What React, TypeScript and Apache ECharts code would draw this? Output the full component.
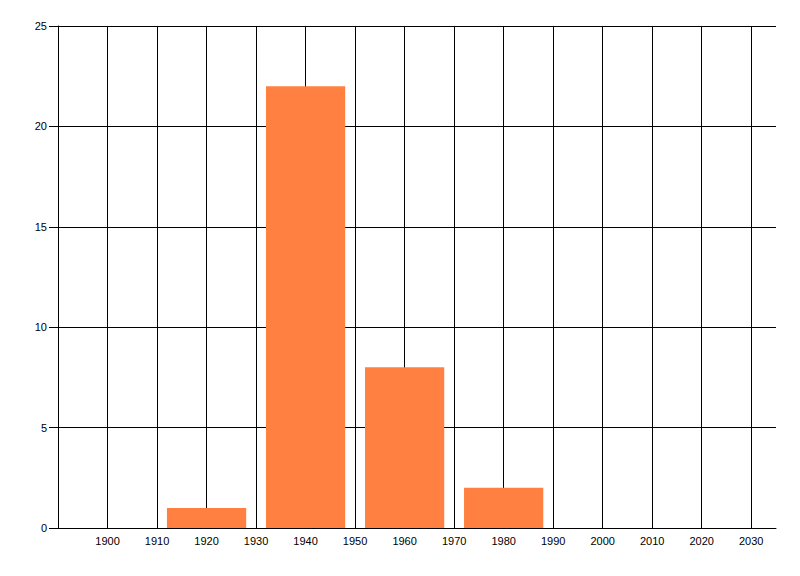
import React, { useEffect, useRef } from "react";
import * as echarts from "echarts";

const decades: number[] = [1920, 1940, 1960, 1980];
const counts: number[] = [1, 22, 8, 2];
const barHalfWidthYears = 8;
const xMin = 1890;
const xMax = 2035;
const yMax = 25;

export default function App() {
  const ref = useRef<HTMLDivElement>(null);
  useEffect(() => {
    if (!ref.current) return;
    const chart = echarts.init(ref.current, undefined, { renderer: "svg" });
    const data = decades.map((d, i) => [d, counts[i]]);
    const font = "'Liberation Sans', Arial, sans-serif";
    chart.setOption({
      animation: false,
      backgroundColor: "#ffffff",
      grid: { left: 58, top: 26, right: 24, bottom: 48, containLabel: false },
      xAxis: {
        type: "value",
        min: xMin,
        max: xMax,
        interval: 10,
        axisLine: { show: true, lineStyle: { color: "#000", width: 1 } },
        axisTick: { show: false },
        axisLabel: {
          color: "#000",
          fontFamily: font,
          fontSize: 11,
          margin: 7,
          showMinLabel: false,
          showMaxLabel: false,
          formatter: (v: number) => (v % 10 === 0 ? String(v) : ""),
        },
        splitLine: {
          show: true,
          showMinLine: false,
          showMaxLine: false,
          lineStyle: { color: "#000", width: 1 },
        },
      },
      yAxis: {
        type: "value",
        min: 0,
        max: yMax,
        interval: 5,
        axisLine: { show: true, lineStyle: { color: "#000", width: 1 } },
        axisTick: { show: true, length: 9, lineStyle: { color: "#000" } },
        axisLabel: { color: "#000", fontFamily: font, fontSize: 11, margin: 11 },
        splitLine: { show: true, lineStyle: { color: "#000", width: 1 } },
      },
      series: [
        {
          type: "custom",
          data,
          renderItem: (params: any, api: any) => {
            const x = api.value(0);
            const y = api.value(1);
            const p0 = api.coord([x - barHalfWidthYears, y]);
            const p1 = api.coord([x + barHalfWidthYears, 0]);
            return {
              type: "rect",
              shape: { x: p0[0], y: p0[1], width: p1[0] - p0[0], height: p1[1] - p0[1] },
              style: { fill: "#FF8040" },
            };
          },
          encode: { x: 0, y: 1 },
        },
      ],
    });
    return () => chart.dispose();
  }, []);
  return (
    <div
      ref={ref}
      style={{ position: "absolute", left: 0, top: 0, width: 800, height: 576 }}
    />
  );
}
